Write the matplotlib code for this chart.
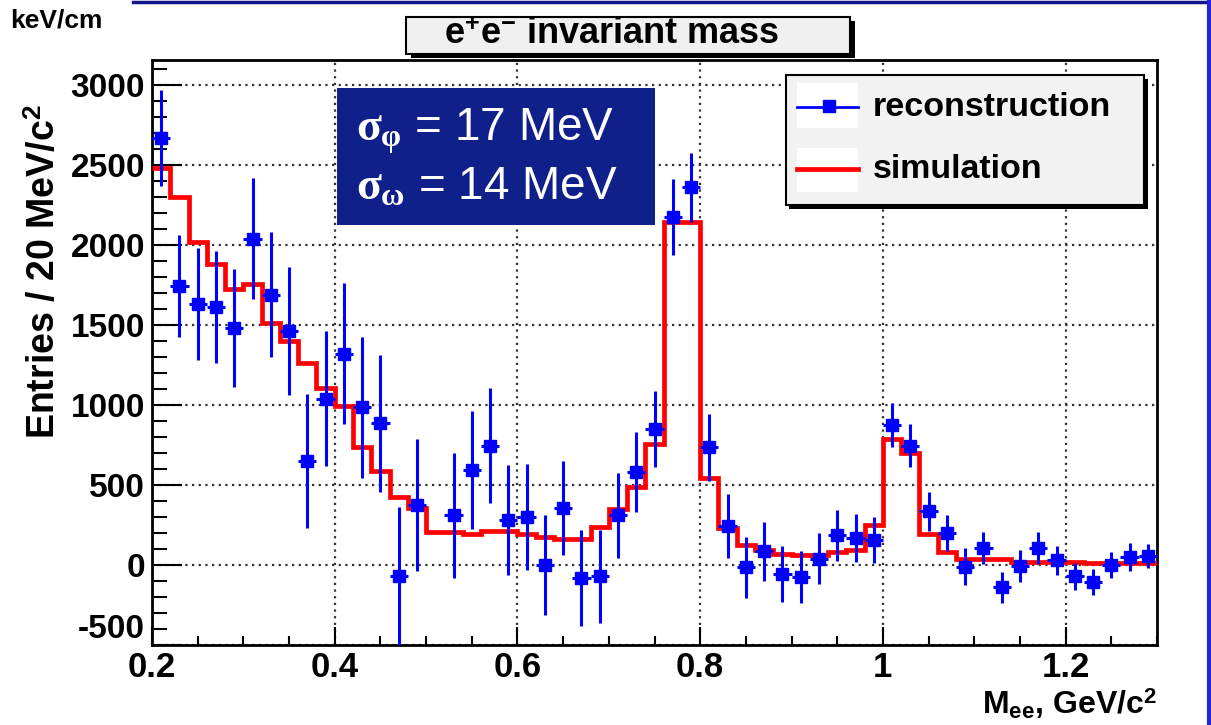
import numpy as np
import matplotlib
matplotlib.use("Agg")
import matplotlib.pyplot as plt
from matplotlib.patches import Rectangle
from matplotlib.lines import Line2D
from matplotlib.ticker import MultipleLocator, FixedLocator

### Data ###
bin_edges = np.round(np.linspace(0.2, 1.3, 56), 2)
bin_centres = 0.5 * (bin_edges[:-1] + bin_edges[1:])

# reconstructed e+e- invariant mass, entries per 20 MeV bin
reco = [2670, 1745, 1630, 1610, 1480, 2040, 1690, 1460, 650, 1040,
        1320, 985, 885, -70, 375, np.nan, 310, 595, 745, 280,
        300, 0, 355, -80, -70, 310, 580, 850, 2175, 2360,
        735, 245, -15, 85, -55, -75, 40, 185, 170, 155,
        875, 745, 335, 200, -10, 105, -140, -5, 105, 30,
        -70, -105, 0, 50, 55]
reco_err = [300, 320, 350, 350, 370, 380, 390, 400, 420, 420,
            440, 440, 430, 430, 410, np.nan, 390, 370, 360, 345,
            330, 312, 295, 300, 290, 265, 250, 235, 235, 215,
            210, 200, 190, 185, 175, 165, 160, 160, 150, 145,
            140, 135, 120, 110, 115, 100, 95, 100, 100, 90,
            85, 80, 80, 85, 75]
# simulated spectrum
sim = [2480, 2300, 2020, 1880, 1725, 1755, 1510, 1400, 1260, 1105,
       995, 740, 585, 425, 355, 205, 205, 195, 210, 210,
       195, 178, 165, 165, 238, 350, 488, 755, 2145, 2145,
       544, 231, 125, 94, 70, 62, 62, 81, 94, 250,
       787, 700, 194, 81, 37, 37, 37, 19, 19, 19,
       19, 12, 12, 12, 12]

x_ticks = [0.2, 0.4, 0.6, 0.8, 1.0, 1.2]
x_ticklabels = ["0.2", "0.4", "0.6", "0.8", "1", "1.2"]
y_ticks = [-500, 0, 500, 1000, 1500, 2000, 2500, 3000]

### Style ###
plt.rcParams['font.family'] = ['Liberation Sans', 'DejaVu Sans']
plt.rcParams['axes.unicode_minus'] = False
plt.rcParams['mathtext.fontset'] = 'custom'
plt.rcParams['mathtext.rm'] = 'Liberation Sans'
plt.rcParams['mathtext.bf'] = 'Liberation Sans:bold'
plt.rcParams['mathtext.it'] = 'Liberation Serif:bold'

W, H = 1211, 725
fig = plt.figure(figsize=(W / 100, H / 100), dpi=100)

def fx(px):
    return px / W

def fy(py):
    return 1 - py / H

# axes frame: 152..1157 px horizontally, 60..645 px vertically
ax = fig.add_axes([fx(152), fy(645), fx(1157) - fx(152), fy(60) - fy(645)])
ax.set_xlim(0.2, 1.3)
ax.set_ylim(-500, 3156)

# grid
ax.xaxis.set_major_locator(FixedLocator(x_ticks))
ax.yaxis.set_major_locator(FixedLocator(y_ticks))
ax.xaxis.set_minor_locator(MultipleLocator(0.05))
ax.yaxis.set_minor_locator(MultipleLocator(100))
ax.grid(True, which='major', color='0.2', linestyle=(0, (1, 2)), linewidth=1.6)
ax.set_axisbelow(True)

ax.set_xticklabels(x_ticklabels)
ax.tick_params(axis='x', which='major', direction='in', length=13, width=1.5,
               labelsize=25, pad=4)
ax.tick_params(axis='x', which='minor', direction='in', length=6.5, width=1.5)
ax.tick_params(axis='y', which='major', direction='in', length=21.5, width=1.5,
               labelsize=24, pad=5)
ax.tick_params(axis='y', which='minor', direction='in', length=10.8, width=1.5)
for lab in ax.get_xticklabels() + ax.get_yticklabels():
    lab.set_fontweight('bold')
# lowest y label sits just above the x labels
ax.get_yticklabels()[0].set_verticalalignment('bottom')
for sp in ax.spines.values():
    sp.set_linewidth(2)
    sp.set_color('black')

# simulation histogram
ax.stairs(sim, bin_edges, baseline=None, color='#ff0000', linewidth=3.4, zorder=3)

# reconstruction points
reco = np.array(reco, dtype=float)
reco_err = np.array(reco_err, dtype=float)
ok = ~np.isnan(reco)
ax.errorbar(bin_centres[ok], reco[ok], yerr=reco_err[ok], xerr=0.01,
            fmt='s', color='#0000ff', markersize=8.5, elinewidth=2.2,
            capsize=0, zorder=4)

# sigma box
fig.add_artist(Rectangle((fx(337), fy(225)), fx(655) - fx(337), fy(88) - fy(225),
                         transform=fig.transFigure, facecolor='#10208a',
                         edgecolor='none', zorder=5))
fig.text(fx(356), fy(131), r'$\sigma_{\varphi}$ = 17 MeV', color='white',
         fontsize=33, ha='left', va='center', zorder=6)
fig.text(fx(356), fy(188), r'$\sigma_{\omega}$ = 14 MeV', color='white',
         fontsize=33, ha='left', va='center', zorder=6)

# legend box (ROOT style with shadow)
fig.add_artist(Rectangle((fx(789), fy(209)), fx(1148) - fx(789), fy(79) - fy(209),
                         transform=fig.transFigure, facecolor='black',
                         edgecolor='none', zorder=5))
fig.add_artist(Rectangle((fx(786), fy(205)), fx(1144) - fx(786), fy(75) - fy(205),
                         transform=fig.transFigure, facecolor='#f2f2f2',
                         edgecolor='black', linewidth=1.5, zorder=5))
for top, bot in [(83, 128), (148, 192)]:
    fig.add_artist(Rectangle((fx(797), fy(bot)), fx(858) - fx(797), fy(top) - fy(bot),
                             transform=fig.transFigure, facecolor='white',
                             edgecolor='none', zorder=5))
fig.add_artist(Line2D([fx(797), fx(858)], [fy(107), fy(107)], transform=fig.transFigure,
                      color='#0000ff', linewidth=2, zorder=6))
fig.add_artist(Line2D([fx(829)], [fy(106)], transform=fig.transFigure,
                      color='#0000ff', marker='s', markersize=8.5, zorder=6))
fig.add_artist(Line2D([fx(797), fx(858)], [fy(169), fy(169)], transform=fig.transFigure,
                      color='#ff0000', linewidth=3.4, zorder=6))
fig.text(fx(873), fy(108), 'reconstruction', fontsize=24.5, fontweight='bold',
         ha='left', va='center', zorder=6)
fig.text(fx(873), fy(170), 'simulation', fontsize=24.5, fontweight='bold',
         ha='left', va='center', zorder=6)

# title box
fig.add_artist(Rectangle((fx(411), fy(58)), fx(855) - fx(411), fy(21) - fy(58),
                         transform=fig.transFigure, facecolor='black',
                         edgecolor='none', zorder=5))
fig.add_artist(Rectangle((fx(406), fy(54)), fx(850) - fx(406), fy(17) - fy(54),
                         transform=fig.transFigure, facecolor='#f0f0f0',
                         edgecolor='black', linewidth=1.5, zorder=5))
fig.text(fx(612), fy(35), r'e$^{\mathbf{+}}$e$^{\mathbf{-}}$ invariant mass',
         fontsize=26, fontweight='bold', ha='center', va='center', zorder=6)

# axis titles
fig.text(fx(45), fy(272), 'Entries / 20 MeV/c$^{\\mathbf{2}}$', fontsize=27,
         fontweight='bold', rotation=90, ha='center', va='center')
fig.text(fx(1157), fy(704), r'M$_{\mathbf{ee}}$, GeV/c$^{\mathbf{2}}$', fontsize=23,
         fontweight='bold', ha='right', va='center')
fig.text(fx(10), fy(20), 'keV/cm', fontsize=19, fontweight='bold',
         ha='left', va='center')

# slide border lines
fig.add_artist(Line2D([fx(133), 1], [fy(1.5), fy(1.5)], transform=fig.transFigure,
                      color='#14148c', linewidth=2.5))
fig.add_artist(Line2D([fx(1209), fx(1209)], [0, 1], transform=fig.transFigure,
                      color='#2424dc', linewidth=3))

fig.savefig("out.png", dpi=100)
